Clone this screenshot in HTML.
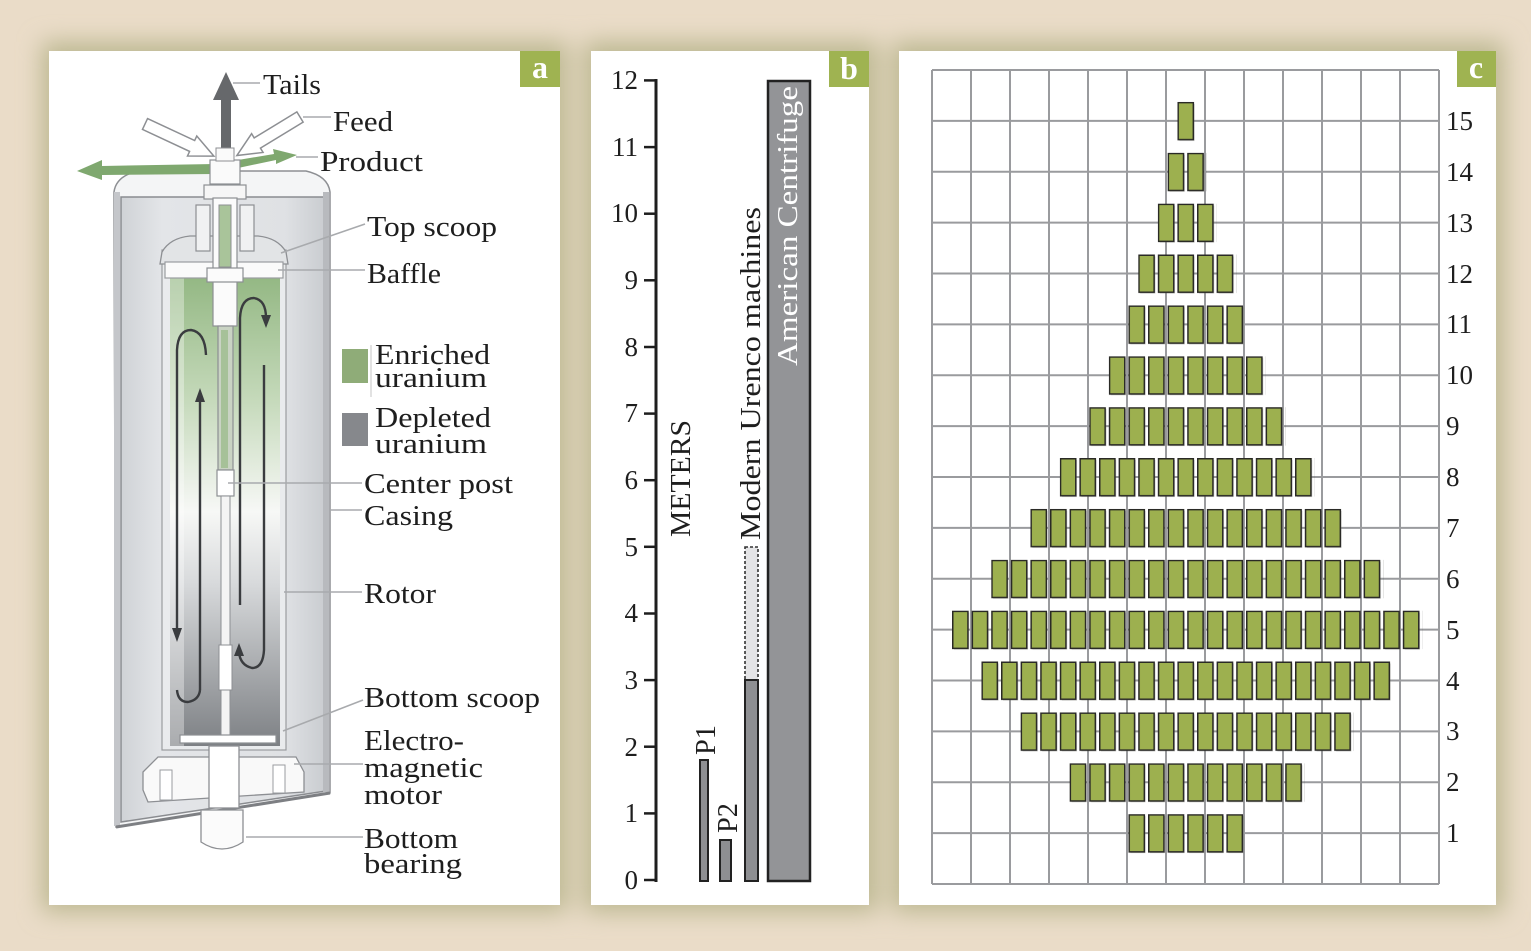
<!DOCTYPE html>
<html><head><meta charset="utf-8"><style>
html,body{margin:0;padding:0;background:#eadcc8;}
svg{display:block;}
text{font-family:"Liberation Serif",serif;fill:#1e1e1e;}
</style></head><body>
<svg width="1531" height="951" viewBox="0 0 1531 951" xmlns="http://www.w3.org/2000/svg">
<defs>
<filter id="sh" x="-20%" y="-20%" width="140%" height="140%"><feGaussianBlur stdDeviation="12"/></filter>
<linearGradient id="cav" x1="0" y1="0" x2="0" y2="1">
<stop offset="0" stop-color="#94b884"/>
<stop offset="0.25" stop-color="#c3d8b8"/>
<stop offset="0.5" stop-color="#f7f8f6"/>
<stop offset="0.65" stop-color="#d8dadc"/>
<stop offset="1" stop-color="#7d8084"/>
</linearGradient>
<linearGradient id="cas" x1="0" y1="0" x2="1" y2="0">
<stop offset="0" stop-color="#cfd2d6"/>
<stop offset="0.2" stop-color="#e3e5e8"/>
<stop offset="0.8" stop-color="#dfe1e4"/>
<stop offset="1" stop-color="#c9ccd0"/>
</linearGradient>
<pattern id="tA" x="952" y="51" width="19.6" height="50.875" patternUnits="userSpaceOnUse"><rect x="2" y="2" width="15.2" height="37" fill="#6a6a60" opacity="0.35"/><rect x="0.75" y="0.75" width="15.2" height="37" fill="#9db04f" stroke="#2a2a26" stroke-width="1.5"/></pattern>
<pattern id="tB" x="961.8" y="51" width="19.6" height="50.875" patternUnits="userSpaceOnUse"><rect x="2" y="2" width="15.2" height="37" fill="#6a6a60" opacity="0.35"/><rect x="0.75" y="0.75" width="15.2" height="37" fill="#9db04f" stroke="#2a2a26" stroke-width="1.5"/></pattern>
</defs>

<!-- shadows -->
<g filter="url(#sh)" fill="#bcb891">
<rect x="42" y="42" width="526" height="870"/>
<rect x="584" y="42" width="294" height="870"/>
<rect x="892" y="42" width="612" height="870"/>
</g>

<!-- panels -->
<rect x="49" y="51" width="511" height="854" fill="#fff"/>
<rect x="591" y="51" width="278" height="854" fill="#fff"/>
<rect x="899" y="51" width="597" height="854" fill="#fff"/>

<!-- labels -->
<rect x="520" y="51" width="40" height="36" fill="#9fb351"/>
<text x="540" y="78" text-anchor="middle" style="fill:#fff;font-weight:bold;font-size:32px">a</text>
<rect x="829" y="51" width="40" height="36" fill="#9fb351"/>
<text x="849" y="79" text-anchor="middle" style="fill:#fff;font-weight:bold;font-size:32px">b</text>
<rect x="1457" y="51" width="39" height="36" fill="#9fb351"/>
<text x="1476" y="78" text-anchor="middle" style="fill:#fff;font-weight:bold;font-size:32px">c</text>

<!-- ===== Panel a: centrifuge ===== -->
<path d="M114,192 Q116,176 138,171 L306,171 Q328,176 330,192 L330,793 L116,827 Z" fill="#f4f5f6" stroke="#8d8f93" stroke-width="1.5"/>
<path d="M121,197 L326,197 L326,791 L121,822 Z" fill="url(#cas)" stroke="#8a8c90" stroke-width="1.5"/>
<rect x="114" y="192" width="6" height="634" fill="#c4c6ca"/>
<rect x="323" y="192" width="6" height="600" fill="#b8babe"/>
<line x1="116" y1="827" x2="330" y2="793" stroke="#7d7f83" stroke-width="3"/>
<rect x="162" y="250" width="124" height="500" fill="#e9ebed" stroke="#9a9ca0" stroke-width="1.2"/>
<rect x="170" y="278" width="110" height="468" fill="url(#cav)"/>
<rect x="170" y="278" width="14" height="468" fill="#ffffff" opacity="0.35"/>
<path d="M160,264 L162,252 Q170,238 190,236 L258,236 Q278,238 286,252 L288,264 Z" fill="#e2e4e6" stroke="#8d8f93" stroke-width="1.3"/>
<rect x="165" y="262" width="118" height="16" fill="#fafafa" stroke="#9a9ca0" stroke-width="1.2"/>
<rect x="196" y="205" width="14" height="46" fill="#f0f1f2" stroke="#8d8f93" stroke-width="1.2"/>
<rect x="240" y="205" width="14" height="46" fill="#f0f1f2" stroke="#8d8f93" stroke-width="1.2"/>
<rect x="204" y="185" width="42" height="14" fill="#f6f6f6" stroke="#8d8f93" stroke-width="1.2"/>
<rect x="213" y="198" width="24" height="128" fill="#fbfbfb" stroke="#8d8f93" stroke-width="1.2"/>
<rect x="219" y="205" width="12" height="62" fill="#a9c49a" stroke="#8d8f93" stroke-width="1"/>
<rect x="207" y="268" width="36" height="14" fill="#fbfbfb" stroke="#8d8f93" stroke-width="1.2"/>
<rect x="218" y="326" width="15" height="144" fill="#c9d3c3" stroke="#8d8f93" stroke-width="1.2"/>
<rect x="221" y="330" width="7" height="138" fill="#a6c198"/>
<rect x="217" y="470" width="17" height="26" fill="#ffffff" stroke="#8d8f93" stroke-width="1.2"/>
<rect x="221" y="496" width="9" height="240" fill="#f4f4f4" stroke="#8d8f93" stroke-width="1"/>
<rect x="219" y="645" width="13" height="45" fill="#ffffff" stroke="#8d8f93" stroke-width="1"/>
<rect x="180" y="735" width="96" height="8" fill="#fff" stroke="#8d8f93" stroke-width="1.2"/>
<path d="M143,772 L158,757 L296,757 L304,772 L304,792 L148,802 L143,790 Z" fill="#f9f9f9" stroke="#8d8f93" stroke-width="1.3"/>
<rect x="160" y="770" width="12" height="30" fill="#fff" stroke="#9a9ca0" stroke-width="1"/>
<rect x="273" y="765" width="12" height="28" fill="#fff" stroke="#9a9ca0" stroke-width="1"/>
<rect x="209" y="746" width="30" height="62" fill="#fff" stroke="#8d8f93" stroke-width="1.3"/>
<path d="M201,810 L243,810 L243,842 Q222,856 201,842 Z" fill="#fbfbfb" stroke="#8d8f93" stroke-width="1.3"/>
<g fill="none" stroke="#3a3c3f" stroke-width="2.4">
<path d="M177,632 L177,350 Q178,330 191,330 Q205,332 206,355"/>
<path d="M200,690 L200,400"/>
<path d="M177,690 Q178,702 188,702 Q199,700 200,690"/>
<path d="M240,605 L240,318 Q241,298 254,298 Q266,300 266,318"/>
<path d="M264,365 L264,650 Q263,668 252,668 Q240,665 239,652"/>
</g>
<g fill="#3a3c3f">
<polygon points="172,628 182,628 177,642"/>
<polygon points="195,402 205,402 200,388"/>
<polygon points="261,315 271,315 266,328"/>
<polygon points="234,656 244,656 239,643"/>
</g>
<g transform="translate(145,124) rotate(25)"><polygon points="0,-6 52,-6 52,-11 76,0 52,11 52,6 0,6" fill="#fff" stroke="#8d8f93" stroke-width="1.5"/></g>
<g transform="translate(300,117) rotate(148.6)"><polygon points="0,-6 50,-6 50,-11 74,0 50,11 50,6 0,6" fill="#fff" stroke="#8d8f93" stroke-width="1.5"/></g>
<polygon points="221,152 221,100 213,100 226,72 239,100 231,100 231,152" fill="#66686b"/>
<polygon points="215,164 102,166 102,160 77,171 102,180 102,175 215,174" fill="#7fa86f"/>
<polygon points="238,160 274,154 273,149 297,155 276,164 276,160 238,168" fill="#7fa86f"/>
<rect x="210" y="160" width="30" height="24" fill="#fafafa" stroke="#8d8f93" stroke-width="1.2"/>
<rect x="216" y="148" width="18" height="13" fill="#fafafa" stroke="#8d8f93" stroke-width="1"/>

<g stroke="#a8aaad" stroke-width="1.5" fill="none">
<line x1="233" y1="83" x2="260" y2="83"/>
<line x1="303" y1="117" x2="331" y2="117"/>
<line x1="296" y1="157" x2="318" y2="157"/>
<line x1="281" y1="253" x2="365" y2="224"/>
<line x1="278" y1="270" x2="365" y2="270"/>
<line x1="228" y1="483" x2="362" y2="483"/>
<line x1="330" y1="510" x2="362" y2="510"/>
<line x1="284" y1="592" x2="362" y2="592"/>
<line x1="283" y1="731" x2="363" y2="700"/>
<line x1="294" y1="764" x2="363" y2="764"/>
<line x1="246" y1="837" x2="363" y2="837"/>
<line x1="371" y1="345" x2="371" y2="397" stroke="#d8d8d8"/>
</g>
<rect x="342" y="349" width="26" height="34" fill="#8fac78"/>
<rect x="342" y="413" width="26" height="33" fill="#86888c"/>

<g style="font-size:29px">
<text x="263" y="94" textLength="58" lengthAdjust="spacingAndGlyphs">Tails</text>
<text x="333" y="131" textLength="60" lengthAdjust="spacingAndGlyphs">Feed</text>
<text x="320" y="171" textLength="103" lengthAdjust="spacingAndGlyphs">Product</text>
<text x="367" y="236" textLength="130" lengthAdjust="spacingAndGlyphs">Top scoop</text>
<text x="367" y="283" textLength="74" lengthAdjust="spacingAndGlyphs">Baffle</text>
<text x="375" y="364" textLength="115" lengthAdjust="spacingAndGlyphs">Enriched</text>
<text x="375" y="387" textLength="112" lengthAdjust="spacingAndGlyphs">uranium</text>
<text x="375" y="427" textLength="116" lengthAdjust="spacingAndGlyphs">Depleted</text>
<text x="375" y="453" textLength="112" lengthAdjust="spacingAndGlyphs">uranium</text>
<text x="364" y="493" textLength="149" lengthAdjust="spacingAndGlyphs">Center post</text>
<text x="364" y="525" textLength="89" lengthAdjust="spacingAndGlyphs">Casing</text>
<text x="364" y="603" textLength="72" lengthAdjust="spacingAndGlyphs">Rotor</text>
<text x="364" y="707" textLength="176" lengthAdjust="spacingAndGlyphs">Bottom scoop</text>
<text x="364" y="750" textLength="100" lengthAdjust="spacingAndGlyphs">Electro-</text>
<text x="364" y="777" textLength="119" lengthAdjust="spacingAndGlyphs">magnetic</text>
<text x="364" y="804" textLength="78" lengthAdjust="spacingAndGlyphs">motor</text>
<text x="364" y="848" textLength="94" lengthAdjust="spacingAndGlyphs">Bottom</text>
<text x="364" y="873" textLength="98" lengthAdjust="spacingAndGlyphs">bearing</text>
</g>

<!-- ===== Panel b ===== -->
<line x1="656" y1="79" x2="656" y2="882" stroke="#1e1e1e" stroke-width="3"/>
<g stroke="#1e1e1e" stroke-width="2.5">
<line x1="644" y1="880" x2="656" y2="880"/>
<line x1="644" y1="813.4" x2="656" y2="813.4"/>
<line x1="644" y1="746.7" x2="656" y2="746.7"/>
<line x1="644" y1="680.1" x2="656" y2="680.1"/>
<line x1="644" y1="613.5" x2="656" y2="613.5"/>
<line x1="644" y1="546.8" x2="656" y2="546.8"/>
<line x1="644" y1="480.2" x2="656" y2="480.2"/>
<line x1="644" y1="413.6" x2="656" y2="413.6"/>
<line x1="644" y1="347" x2="656" y2="347"/>
<line x1="644" y1="280.3" x2="656" y2="280.3"/>
<line x1="644" y1="213.7" x2="656" y2="213.7"/>
<line x1="644" y1="147.1" x2="656" y2="147.1"/>
<line x1="644" y1="80.4" x2="656" y2="80.4"/>
</g>
<g style="font-size:27px" text-anchor="end">
<text x="638" y="889">0</text>
<text x="638" y="822">1</text>
<text x="638" y="756">2</text>
<text x="638" y="689">3</text>
<text x="638" y="622">4</text>
<text x="638" y="556">5</text>
<text x="638" y="489">6</text>
<text x="638" y="422">7</text>
<text x="638" y="356">8</text>
<text x="638" y="289">9</text>
<text x="638" y="222">10</text>
<text x="638" y="156">11</text>
<text x="638" y="89">12</text>
</g>
<rect x="700" y="760" width="8" height="121" fill="#8e8f92" stroke="#222" stroke-width="2"/>
<rect x="720" y="840" width="11" height="41" fill="#8e8f92" stroke="#222" stroke-width="2"/>
<rect x="745" y="547" width="13" height="133" fill="#e4e4e6" stroke="#333" stroke-width="1.6" stroke-dasharray="3,2"/>
<rect x="745" y="680" width="13" height="201" fill="#8e8f92" stroke="#222" stroke-width="2"/>
<rect x="768" y="81" width="42" height="800" fill="#939497" stroke="#222" stroke-width="2.5"/>
<g style="font-size:29px">
<text transform="translate(690,537) rotate(-90)" textLength="117" lengthAdjust="spacingAndGlyphs">METERS</text>
<text transform="translate(760,540) rotate(-90)" textLength="333" lengthAdjust="spacingAndGlyphs">Modern Urenco machines</text>
<text transform="translate(797,366) rotate(-90)" textLength="280" lengthAdjust="spacingAndGlyphs" style="fill:#fff">American Centrifuge</text>
<text transform="translate(715,755) rotate(-90)" textLength="30" lengthAdjust="spacingAndGlyphs">P1</text>
<text transform="translate(737,833) rotate(-90)" textLength="30" lengthAdjust="spacingAndGlyphs">P2</text>
</g>

<!-- ===== Panel c ===== -->
<path stroke="#9a9b9e" stroke-width="2" fill="none" d="
M932,70 V884 M971,70 V884 M1010,70 V884 M1049,70 V884 M1088,70 V884 M1127,70 V884 M1166,70 V884
M1205,70 V884 M1244,70 V884 M1283,70 V884 M1322,70 V884 M1361,70 V884 M1400,70 V884 M1439,70 V884
M932,70 H1439 M932,120.9 H1439 M932,171.75 H1439 M932,222.6 H1439 M932,273.5 H1439 M932,324.4 H1439
M932,375.25 H1439 M932,426.1 H1439 M932,477 H1439 M932,527.9 H1439 M932,578.75 H1439 M932,629.6 H1439
M932,680.5 H1439 M932,731.4 H1439 M932,782.25 H1439 M932,833.1 H1439 M932,884 H1439"/>
<rect x="1177.4" y="101.875" width="19.6" height="40" fill="url(#tB)"/>
<rect x="1167.6" y="152.75" width="39.2" height="40" fill="url(#tA)"/>
<rect x="1157.8" y="203.625" width="58.8" height="40" fill="url(#tB)"/>
<rect x="1138.2" y="254.5" width="98" height="40" fill="url(#tB)"/>
<rect x="1128.4" y="305.375" width="117.6" height="40" fill="url(#tA)"/>
<rect x="1108.8" y="356.25" width="156.8" height="40" fill="url(#tA)"/>
<rect x="1089.2" y="407.125" width="196" height="40" fill="url(#tA)"/>
<rect x="1059.8" y="458" width="254.8" height="40" fill="url(#tB)"/>
<rect x="1030.4" y="508.875" width="313.6" height="40" fill="url(#tA)"/>
<rect x="991.2" y="559.75" width="392" height="40" fill="url(#tA)"/>
<rect x="952" y="610.625" width="470.4" height="40" fill="url(#tA)"/>
<rect x="981.4" y="661.5" width="411.6" height="40" fill="url(#tB)"/>
<rect x="1020.6" y="712.375" width="333.2" height="40" fill="url(#tB)"/>
<rect x="1069.6" y="763.25" width="235.2" height="40" fill="url(#tA)"/>
<rect x="1128.4" y="814.125" width="117.6" height="40" fill="url(#tA)"/>
<g style="font-size:27px">
<text x="1446" y="130">15</text>
<text x="1446" y="181">14</text>
<text x="1446" y="232">13</text>
<text x="1446" y="283">12</text>
<text x="1446" y="333">11</text>
<text x="1446" y="384">10</text>
<text x="1446" y="435">9</text>
<text x="1446" y="486">8</text>
<text x="1446" y="537">7</text>
<text x="1446" y="588">6</text>
<text x="1446" y="639">5</text>
<text x="1446" y="690">4</text>
<text x="1446" y="740">3</text>
<text x="1446" y="791">2</text>
<text x="1446" y="842">1</text>
</g>
</svg>
</body></html>
